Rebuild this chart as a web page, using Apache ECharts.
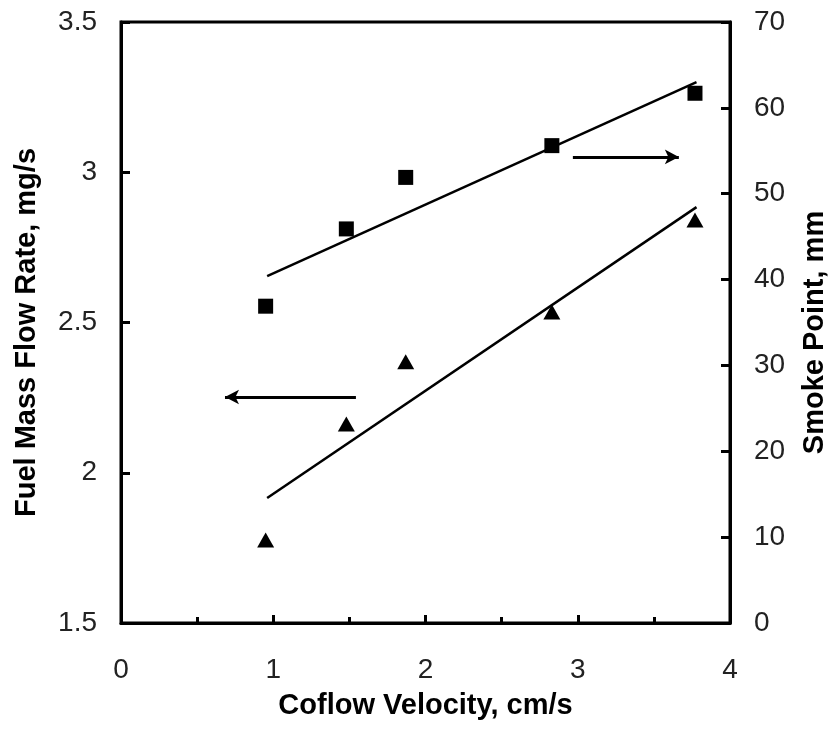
<!DOCTYPE html>
<html>
<head>
<meta charset="utf-8">
<script src="https://cdn.jsdelivr.net/npm/echarts@6/dist/echarts.min.js"></script>
<style>html,body{margin:0;padding:0;background:#fff;overflow:hidden}#c{width:829px;height:734px}</style>
</head>
<body>
<div id="c"></div>
<script>
// Coflow velocity (cm/s)
const velocity = [0.95, 1.48, 1.87, 2.83, 3.77];
// Fuel mass flow rate (mg/s) - triangles, left axis
const fuelFlow = [1.776, 2.162, 2.369, 2.535, 2.841];
// Smoke point (mm) - squares, right axis
const smokePoint = [36.9, 45.9, 51.9, 55.6, 61.7];
// Linear trend lines (endpoints)
const fuelTrendX = [0.96, 3.78];
const fuelTrendY = [1.916, 2.884];
const smokeTrendX = [0.96, 3.78];
const smokeTrendY = [40.4, 63.0];
// Arrow annotations (left axis units)
const leftArrowX = [1.543, 0.683];
const leftArrowY = 2.252;
const rightArrowX = [2.968, 3.664];
const rightArrowY = 3.051;

const xTicks = ['0','1','2','3','4'];

const FONT = 'Liberation Sans, Arial, sans-serif';
const pair = (xs, ys) => xs.map((x, i) => [x, ys[i]]);

const chart = echarts.init(document.getElementById('c'));
chart.setOption({
  animation: false,
  backgroundColor: '#fff',
  grid: { left: 121, right: 99, top: 22, bottom: 111, show: true, borderColor: '#000', borderWidth: 3, containLabel: false, outerBoundsMode: 'none' },
  xAxis: {
    type: 'value', min: 0, max: 4, interval: 1,
    name: 'Coflow Velocity, cm/s', nameLocation: 'middle', nameGap: 68,
    nameTextStyle: { fontFamily: FONT, fontSize: 29, fontWeight: 'bold', color: '#000' },
    axisLine: { show: true, lineStyle: { color: '#000', width: 3 } },
    axisTick: { show: true, inside: true, length: 8, lineStyle: { color: '#000', width: 3 } },
    minorTick: { show: true, splitNumber: 2, length: 6, lineStyle: { color: '#000', width: 3 } },
    axisLabel: { fontFamily: FONT, fontSize: 28, color: '#222', margin: 33, formatter: v => xTicks[Math.round(v)] },
    splitLine: { show: false }
  },
  yAxis: [{
    type: 'value', min: 1.5, max: 3.5, interval: 0.5, position: 'left',
    name: 'Fuel Mass Flow Rate, mg/s', nameLocation: 'middle', nameGap: 80,
    nameTextStyle: { fontFamily: FONT, fontSize: 29, fontWeight: 'bold', color: '#000', padding: [0, 20, 0, 0] },
    axisLine: { show: true, lineStyle: { color: '#000', width: 3 } },
    axisTick: { show: true, inside: true, length: 9, lineStyle: { color: '#000', width: 3 } },
    axisLabel: { fontFamily: FONT, fontSize: 28, color: '#222', margin: 24 },
    splitLine: { show: false }
  }, {
    type: 'value', min: 0, max: 70, interval: 10, position: 'right',
    name: 'Smoke Point, mm', nameLocation: 'middle', nameGap: 70,
    nameTextStyle: { fontFamily: FONT, fontSize: 29, fontWeight: 'bold', color: '#000', padding: [0, 20, 0, 0] },
    axisLine: { show: true, lineStyle: { color: '#000', width: 3 } },
    axisTick: { show: true, inside: true, length: 9, lineStyle: { color: '#000', width: 3 } },
    axisLabel: { fontFamily: FONT, fontSize: 28, color: '#222', margin: 24 },
    splitLine: { show: false }
  }],
  series: [{
    type: 'scatter', yAxisIndex: 0, symbol: 'triangle', symbolSize: [17, 15],
    itemStyle: { color: '#000', opacity: 1 }, data: pair(velocity, fuelFlow)
  }, {
    type: 'scatter', yAxisIndex: 1, symbol: 'rect', symbolSize: 15,
    itemStyle: { color: '#000', opacity: 1 }, data: pair(velocity, smokePoint)
  }, {
    type: 'line', yAxisIndex: 0, showSymbol: false, symbol: 'none',
    lineStyle: { color: '#000', width: 2.5 }, data: pair(fuelTrendX, fuelTrendY),
    markLine: {
      silent: true, symbol: ['none', 'arrow'], symbolSize: [11, 14],
      label: { show: false },
      lineStyle: { color: '#000', width: 3, type: 'solid' },
      data: [
        [{ coord: [leftArrowX[0], leftArrowY] }, { coord: [leftArrowX[1], leftArrowY] }],
        [{ coord: [rightArrowX[0], rightArrowY] }, { coord: [rightArrowX[1], rightArrowY] }]
      ]
    }
  }, {
    type: 'line', yAxisIndex: 1, showSymbol: false, symbol: 'none',
    lineStyle: { color: '#000', width: 2.5 }, data: pair(smokeTrendX, smokeTrendY)
  }]
});
</script>
</body>
</html>
